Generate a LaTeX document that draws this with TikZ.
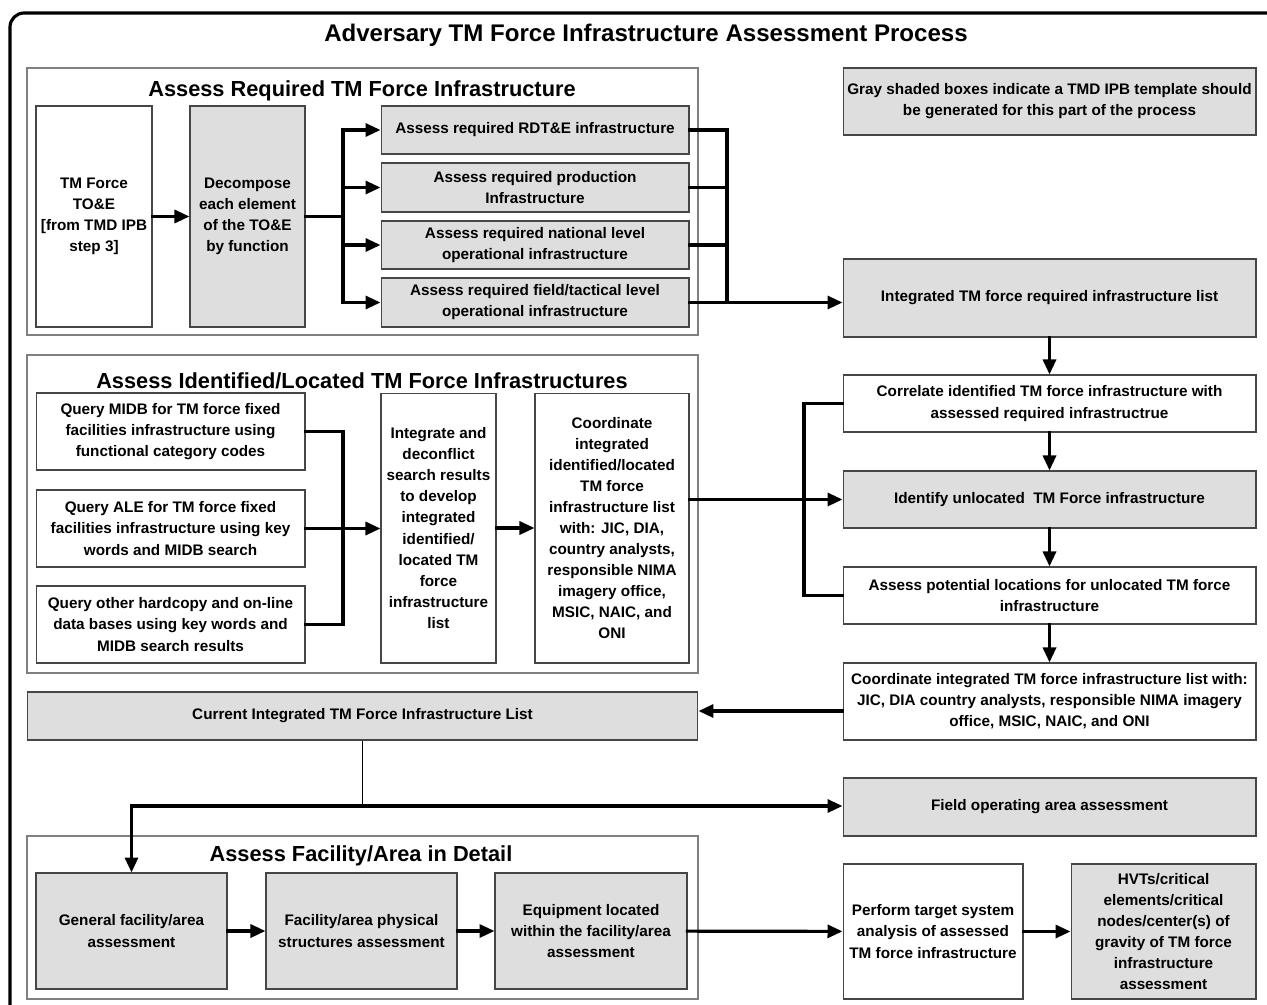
\documentclass[tikz,border=0pt]{standalone}
\usepackage{fontspec}
\setmainfont{Liberation Sans}
\usetikzlibrary{arrows.meta}
\definecolor{boxgray}{RGB}{222,222,222}
\definecolor{edgegray}{RGB}{70,70,70}
\tikzset{
	box/.style={draw=edgegray, line width=0.6pt, fill=white, align=center, inner sep=1pt, font=\bfseries\fontsize{8.7}{12}\selectfont},
	gbox/.style={box, fill=boxgray},
	sect/.style={draw=gray, line width=0.6pt},
	stitle/.style={font=\bfseries\fontsize{12.4}{14}\selectfont},
	ln/.style={line width=1.8pt, line cap=rect, line join=miter},
	arr/.style={ln, -{Triangle[length=0.3cm,width=0.26cm]}},
}
\begin{document}
\begin{tikzpicture}[x=0.02cm,y=-0.02cm]
		\useasboundingbox (0,0) rectangle (1267,1004);
		\draw[line width=1.8pt, rounded corners=8pt] (10,1012) -- (10,13) -- (1280,13);
		\node[font=\bfseries\fontsize{13.7}{16}\selectfont] (title) at (646,35) {Adversary TM Force Infrastructure Assessment Process};
		
		\draw[sect] (27,68) rectangle (698,335); \node[stitle] (treq) at (362,91) {Assess Required TM Force Infrastructure};
		\node[box, minimum width=2.32cm, minimum height=4.42cm] (toe) at (94,216.5) {TM Force\\TO\&E\\{[}from TMD IPB\\step 3]};
		\node[gbox, minimum width=2.30cm, minimum height=4.42cm] (decomp) at (247.5,216.5) {Decompose\\each element\\of the TO\&E\\by function};
		\node[gbox, minimum width=6.16cm, minimum height=0.96cm] (rdte) at (535,130) {Assess required RDT\&E infrastructure};
		\node[gbox, minimum width=6.16cm, minimum height=0.98cm] (prod) at (535,187.5) {Assess required production\\Infrastructure};
		\node[gbox, minimum width=6.16cm, minimum height=0.96cm] (natl) at (535,245) {Assess required national level\\operational infrastructure};
		\node[gbox, minimum width=6.16cm, minimum height=0.98cm] (fld) at (535,302.5) {Assess required field/tactical level\\operational infrastructure};
		
		\draw[sect] (27,355) rectangle (698,673); \node[stitle] (tid) at (362,381) {Assess Identified/Located TM Force Infrastructures};
		\node[box, minimum width=5.38cm, minimum height=1.54cm] (qmidb) at (170.5,431.5) {Query MIDB for TM force fixed\\facilities infrastructure using\\functional category codes};
		\node[box, minimum width=5.38cm, minimum height=1.54cm] (qale) at (170.5,528.5) {Query ALE for TM force fixed\\facilities infrastructure using key\\words and MIDB search};
		\node[box, minimum width=5.38cm, minimum height=1.54cm] (qoth) at (170.5,624.5) {Query other hardcopy and on-line\\data bases using key words and\\MIDB search results};
		\node[box, minimum width=2.30cm, minimum height=5.4cm] (integ) at (438.5,528) {Integrate and\\deconflict\\search results\\to develop\\integrated\\identified/\\located TM\\force\\infrastructure\\list};
		\node[box, minimum width=3.08cm, minimum height=5.4cm] (coord) at (612,528) {Coordinate\\integrated\\identified/located\\TM force\\infrastructure list\\with: JIC, DIA,\\country analysts,\\responsible NIMA\\imagery office,\\MSIC, NAIC, and\\ONI};
		
		\node[gbox, minimum width=8.26cm, minimum height=1.34cm] (note) at (1049.5,101.5) {Gray shaded boxes indicate a TMD IPB template should\\be generated for this part of the process};
		\node[gbox, minimum width=8.26cm, minimum height=1.56cm] (intreq) at (1049.5,298) {Integrated TM force required infrastructure list};
		\node[box, minimum width=8.26cm, minimum height=1.14cm] (corr) at (1049.5,403.5) {Correlate identified TM force infrastructure with\\assessed required infrastructrue};
		\node[gbox, minimum width=8.26cm, minimum height=1.14cm] (ident) at (1049.5,499.5) {Identify unlocated \ TM Force infrastructure};
		\node[box, minimum width=8.26cm, minimum height=1.14cm] (apot) at (1049.5,595.5) {Assess potential locations for unlocated TM force\\infrastructure};
		\node[box, minimum width=8.26cm, minimum height=1.54cm] (cint) at (1049.5,701.5) {Coordinate integrated TM force infrastructure list with:\\JIC, DIA country analysts, responsible NIMA imagery\\office, MSIC, NAIC, and ONI};
		\node[gbox, minimum width=8.26cm, minimum height=1.16cm] (fop) at (1049.5,807) {Field operating area assessment};
		\node[box, minimum width=3.6cm, minimum height=2.7cm] (perf) at (933,931.5) {Perform target system\\analysis of assessed\\TM force infrastructure};
		\node[gbox, minimum width=3.7cm, minimum height=2.7cm] (hvt) at (1163.5,931.5) {HVTs/critical\\elements/critical\\nodes/center(s) of\\gravity of TM force\\infrastructure\\assessment};
		
		\node[gbox, minimum width=13.42cm, minimum height=0.96cm] (cur) at (362.5,716) {Current Integrated TM Force Infrastructure List};
		\draw[sect] (27,836) rectangle (698,999); \node[stitle] (tdet) at (361,856) {Assess Facility/Area in Detail};
		\node[gbox, minimum width=3.82cm, minimum height=2.32cm] (gen) at (131.5,931) {General facility/area\\assessment};
		\node[gbox, minimum width=3.82cm, minimum height=2.32cm] (phys) at (361.5,931) {Facility/area physical\\structures assessment};
		\node[gbox, minimum width=3.84cm, minimum height=2.32cm] (equip) at (591,931) {Equipment located\\within the facility/area\\assessment};
		
		\coordinate (lt) at (343,216.5); \coordinate (rt) at (727,302.5);
		\draw[arr] (toe) -- (decomp);
		\draw[ln] (decomp.east) -- (lt); \draw[ln] (lt |- rdte.west) -- (lt |- fld.west);
		\foreach \b in {rdte,prod,natl,fld} {\draw[arr] (lt |- \b.west) -- (\b.west); \draw[ln] (\b.east) -- (\b.east -| rt);}
		\draw[ln] (rt |- rdte.east) -- (rt); \draw[arr] (rt) -- (rt -| intreq.west);
		\draw[arr] (intreq) -- (corr); \draw[arr] (corr) -- (ident); \draw[arr] (ident) -- (apot); \draw[arr] (apot) -- (cint);
		
		\coordinate (br) at (804,500); \coordinate (qb) at (343,528.5);
		\draw[ln] (corr.west) -- (corr.west -| br) -- (apot.west -| br) -- (apot.west);
		\draw[ln] (qmidb.east) -- (qmidb.east -| qb) -- (qoth.east -| qb) -- (qoth.east);
		\draw[arr] (qale.east) -- (qale.east -| integ.west);
		\draw[arr] (integ) -- (coord);
		\draw[arr] (coord.east |- ident.west) -- (ident.west);
		
		\coordinate (cw) at ([yshift=-0.19cm]cint.west);
		\draw[arr] (cw) -- (cw -| cur.east);
		\coordinate (split) at (362.5,806); \coordinate (fork) at (131.5,806);
		\draw[line width=0.9pt] (cur.south) -- (split);
		\draw[arr] (fork) -- (fork -| fop.west); \draw[arr] (fork) -- (gen.north);
		\draw[arr] (gen) -- (phys); \draw[arr] (phys) -- (equip); \draw[arr] (equip) -- (perf); \draw[arr] (perf) -- (hvt);
\end{tikzpicture}
\end{document}
